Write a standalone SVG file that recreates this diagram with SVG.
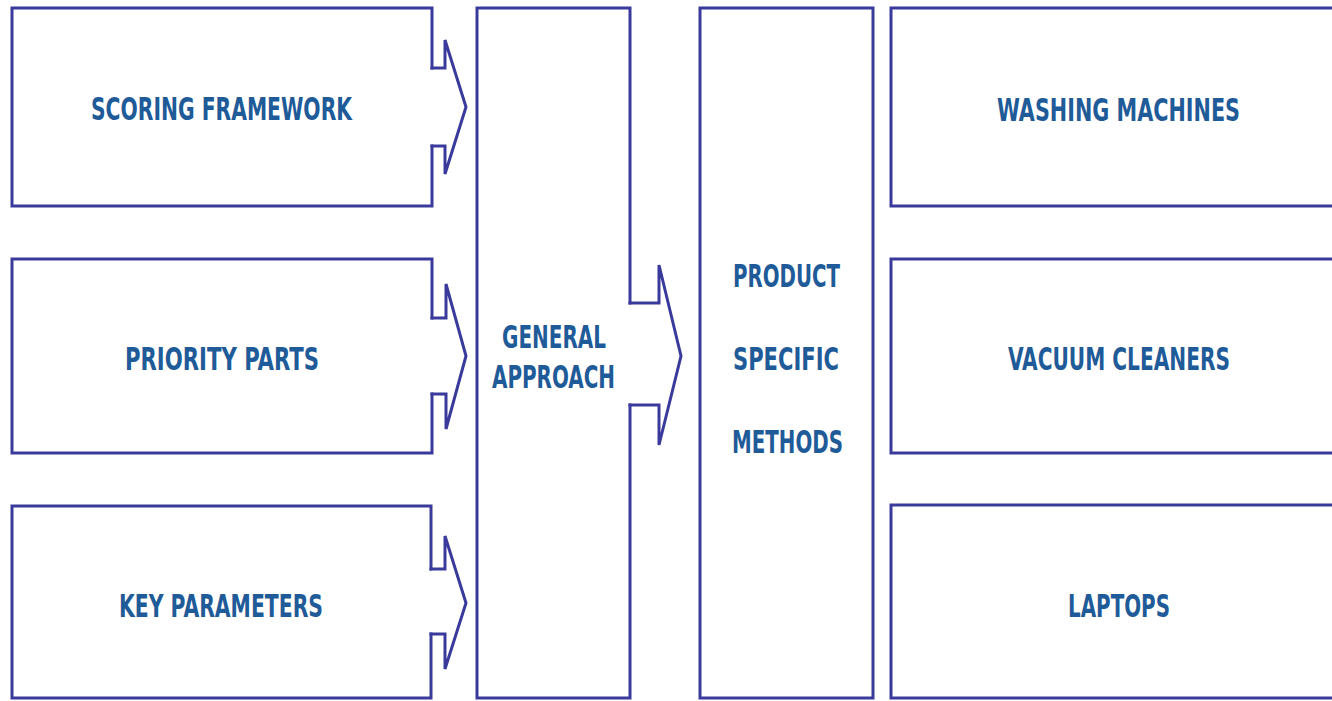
<svg xmlns="http://www.w3.org/2000/svg" width="1332" height="701" viewBox="0 0 1332 701">
  <style>
    .box { fill: none; stroke: #3a3a9c; stroke-width: 3; stroke-linecap: square; stroke-linejoin: miter; }
    .arrow { fill: none; stroke: #3a3a9c; stroke-width: 3; stroke-linecap: square; stroke-linejoin: miter; }
    .label { font-family: "DejaVu Sans Condensed", "DejaVu Sans", sans-serif; font-stretch: condensed; font-weight: bold; font-size: 32px; fill: #1f5b98; text-anchor: middle; }
  </style>
  <rect width="1332" height="701" fill="#ffffff"/>

  <!-- input boxes (left column) -->
  <g id="scoring-framework">
    <path class="box" d="M432,68 V8 H12 V206 H432 V146"/>
    <text class="label" x="221.5" y="120" textLength="261" lengthAdjust="spacingAndGlyphs">SCORING FRAMEWORK</text>
  </g>
  <g id="priority-parts">
    <path class="box" d="M432,318 V259 H12 V453 H432 V394"/>
    <text class="label" x="222" y="370" textLength="194" lengthAdjust="spacingAndGlyphs">PRIORITY PARTS</text>
  </g>
  <g id="key-parameters">
    <path class="box" d="M431,569 V506 H12 V698 H431 V634"/>
    <text class="label" x="221" y="617" textLength="204" lengthAdjust="spacingAndGlyphs">KEY PARAMETERS</text>
  </g>

  <!-- central column -->
  <g id="general-approach">
    <path class="box" d="M630,303 V8 H477 V698 H630 V405"/>
    <text class="label" x="554" y="348" textLength="104" lengthAdjust="spacingAndGlyphs">GENERAL</text>
    <text class="label" x="553.5" y="388" textLength="123" lengthAdjust="spacingAndGlyphs">APPROACH</text>
  </g>
  <g id="product-specific-methods">
    <rect class="box" x="700" y="8" width="173" height="690"/>
    <text class="label" x="786.5" y="287" textLength="107" lengthAdjust="spacingAndGlyphs">PRODUCT</text>
    <text class="label" x="786" y="370" textLength="106" lengthAdjust="spacingAndGlyphs">SPECIFIC</text>
    <text class="label" x="787.5" y="453" textLength="111" lengthAdjust="spacingAndGlyphs">METHODS</text>
  </g>

  <!-- product boxes (right column) -->
  <g id="washing-machines">
    <rect class="box" x="891" y="8" width="460" height="198"/>
    <text class="label" x="1118.5" y="121" textLength="243" lengthAdjust="spacingAndGlyphs">WASHING MACHINES</text>
  </g>
  <g id="vacuum-cleaners">
    <rect class="box" x="891" y="259" width="460" height="194"/>
    <text class="label" x="1119" y="370" textLength="222" lengthAdjust="spacingAndGlyphs">VACUUM CLEANERS</text>
  </g>
  <g id="laptops">
    <rect class="box" x="891" y="505" width="460" height="193"/>
    <text class="label" x="1119" y="617" textLength="102" lengthAdjust="spacingAndGlyphs">LAPTOPS</text>
  </g>

  <!-- block arrows -->
  <g id="connectors">
    <path class="arrow" d="M432,68 H445 V40 L466,107 L445,174 V146 H432"/>
    <path class="arrow" d="M432,318 H446 V284 L466,356 L446,429 V394 H432"/>
    <path class="arrow" d="M431,569 H445 V536 L466,603 L445,669 V634 H431"/>
    <path class="arrow" d="M630,303 H659 V265 L681,356 L659,445 V405 H630"/>
  </g>
</svg>
